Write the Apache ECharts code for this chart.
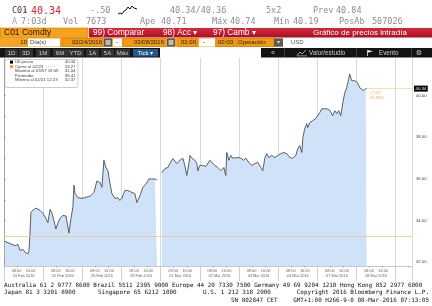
<!DOCTYPE html>
<html><head><meta charset="utf-8">
<script src="https://cdn.jsdelivr.net/npm/echarts@6/dist/echarts.min.js"></script>
<style>html,body{margin:0;padding:0;background:#fff}#c{width:432px;height:306px}</style>
</head><body><div id="c"></div><script>
// ---- data ----
const dayLabels = ['24 Feb 2016','25 Feb 2016','26 Feb 2016','29 Feb 2016','01 Mar 2016','02 Mar 2016','03 Mar 2016','04 Mar 2016','07 Mar 2016','08 Mar 2016'];
const sessionLabels = ['08:00', '16:00'];
// hours since 24 Feb 2016 00:00
const tickHours = [0.6,3.7,6.7,8.6,9.8,11.6,12.9,14.7,15.3,15.9,16.5,17.8,19.6,20.8,22.0,23.9,25.7,26.9,28.2,29.4,30.6,31.8,33.1,34.3,36.1,38.0,39.2,39.8,41.0,42.2,42.9,43.5,45.3,47.8,49.6,51.4,53.3,55.1,56.9,58.8,60.0,61.2,62.5,63.7,64.9,66.1,68.0,69.8,71.0,72.2,74.1,75.9,78.4,80.2,81.4,83.3,85.1,86.9,88.8,90.6,92.5,93.7,95.0,96.7,98.6,100.4,101.6,103.5,104.7,105.9,107.8,109.6,110.8,112.0,113.3,113.9,115.1,116.9,118.2,118.8,120.0,121.8,123.7,126.1,127.4,129.2,131.0,132.9,134.7,135.9,136.5,137.8,139.0,140.2,141.4,143.3,145.1,146.9,148.2,150.0,151.8,153.7,155.5,157.4,158.6,159.8,161.0,162.2,164.1,165.9,167.8,169.6,171.4,173.3,175.1,176.9,178.8,180.0,181.2,182.5,183.1,184.3,185.5,186.1,187.4,189.2,191.0,192.2,193.5,194.7,195.9,197.8,199.6,200.8,201.4,202.7,203.9,205.1,206.3,206.9,207.6,208.8,210.0,211.2,211.8,213.1,213.7,214.9,216.1,216.7,218.0,219.2,220.4,221.6,222.2];
const tickPrice = [33.00,32.90,32.80,32.85,32.57,32.62,32.48,32.40,32.55,33.34,34.40,34.50,34.60,34.64,34.50,34.35,34.10,33.90,34.54,34.35,34.00,33.60,33.90,34.10,34.25,34.22,34.15,33.40,34.10,34.64,35.70,35.30,35.10,35.07,35.10,35.15,35.20,35.35,35.90,35.83,35.60,36.90,36.55,36.40,35.80,35.30,35.07,35.10,34.97,35.07,35.45,35.45,35.35,35.30,34.87,35.20,35.60,35.75,36.00,36.00,36.00,35.95,null,36.30,36.50,36.55,36.74,36.98,36.90,36.74,36.90,37.00,36.65,36.17,36.74,37.13,37.00,36.90,36.74,36.40,36.65,36.65,36.60,36.90,36.80,36.65,36.55,36.40,36.55,36.17,37.27,36.90,37.13,37.00,37.03,37.03,37.00,36.90,37.00,36.80,36.65,36.74,36.80,36.55,36.40,37.00,37.22,37.03,37.13,37.03,37.13,37.22,37.27,37.22,37.03,37.00,37.13,37.46,37.60,37.27,37.99,38.42,38.66,38.47,38.70,38.80,38.90,39.04,39.19,39.37,39.43,39.37,39.30,39.28,39.04,39.28,39.14,39.28,39.04,39.28,39.66,40.14,40.38,40.81,41.04,40.72,40.81,40.72,40.72,40.62,40.38,40.29,40.24,40.34,40.34];
const closePrev = 33.27;
const yLabelValues = [32, 34, 36, 38, 40];
const yTickValues = [32, 33, 34, 35, 36, 37, 38, 39, 40, 41];
const legendNames = ['Últ precio', 'Cierre al 02/23', 'Máximo al 03/07 19:09', 'Promedio', 'Mínimo al 02/24 12:23'];
const legendValues = ['40.34', '33.27', '41.04', '36.41', '32.37'];
const footer1 = 'Australia 61 2 9777 8600 Brazil 5511 2395 9000 Europe 44 20 7330 7500 Germany 49 69 9204 1210 Hong Kong 852 2977 6000';
const footer2 = ['Japan 81 3 3201 8900', 'Singapore 65 6212 1000', 'U.S. 1 212 318 2000', 'Copyright 2016 Bloomberg Finance L.P.'];
const footer3 = ['SN 802847 CET', 'GMT+1:00 H266-9-0 08-Mar-2016 07:13:05'];

// ---- build ----
const seriesData = tickHours.map((h, i) => [h, tickPrice[i] === null ? '-' : tickPrice[i]]);
const lastIdx = tickPrice.length - 1;
const lastH = tickHours[lastIdx], last = tickPrice[lastIdx];
const chg = last - closePrev, pct = chg / closePrev * 100;
const xMax = 250;

const MONO = 'DejaVu Sans Mono', SANS = 'Liberation Sans';
function T(x, y, text, o) {
  o = o || {};
  return {type: 'text', x: x, y: y, z: 100, silent: true,
    style: {text: text, fill: o.fill || '#8e8e8e', font: (o.weight || 'normal') + ' ' + (o.size || 8.5) + 'px "' + (o.family || MONO) + '"',
      textAlign: o.align || 'left', textVerticalAlign: 'middle'}};
}
function R(x, y, w, h, fill, o) {
  o = o || {};
  return {type: 'rect', z: 99, silent: true, shape: {x: x, y: y, width: w, height: h, r: o.r || 0},
    style: {fill: fill, stroke: o.stroke || null, lineWidth: o.lw || 0}};
}
const g = [];
// row 1
g.push(T(12, 11, 'C01', {fill: '#3a3a3a'}));
g.push(T(23, 11, '↓', {fill: '#e02030', size: 8}));
g.push(T(31, 11, '40.34', {fill: '#e02030', size: 10}));
g.push(T(90, 11, '-.50'));
g.push({type: 'polyline', z: 100, silent: true, shape: {points: [[118,14],[120,13],[122,14],[124,11],[126,10],[128,7],[130,9],[132,6],[134,8],[137,9]]}, style: {stroke: '#111', lineWidth: 1, fill: null}});
g.push(T(170, 11, '40.34/40.36'));
g.push(T(266, 11, '5x2'));
g.push(T(313, 11, 'Prev'));
g.push(T(336, 11, '40.84'));
// row 2
g.push(T(12, 22, 'A', {fill: '#a8a8a8'}));
g.push(T(21, 22, '7:03d'));
g.push(T(63, 22, 'Vol'));
g.push(T(86, 22, '7673'));
g.push(T(140, 22, 'Ape'));
g.push(T(161, 22, '40.71'));
g.push(T(212, 22, 'Máx'));
g.push(T(230, 22, '40.74'));
g.push(T(274, 22, 'Mín'));
g.push(T(293, 22, '40.19'));
g.push(T(339, 22, 'PosAb'));
g.push(T(372, 22, '507026'));
// row 3
g.push(R(0, 28, 88, 9.5, '#f5a21f', {stroke: '#c97a00', lw: 0.6}));
g.push(T(4, 32.8, 'C01 Comdty', {family: SANS, size: 8.5, fill: '#2a1800'}));
g.push({type: 'rect', z: 99, silent: true, shape: {x: 89, y: 28, width: 343, height: 9.5},
  style: {fill: new echarts.graphic.LinearGradient(0, 0, 0, 1, [{offset: 0, color: '#d72a3c'}, {offset: 1, color: '#a80f22'}])}});
g.push(T(93, 32.8, '99) Comparar', {family: SANS, size: 8.3, fill: '#fff'}));
g.push(T(163, 32.8, '98) Acc ▾', {family: SANS, size: 8.3, fill: '#fff'}));
g.push(T(213, 32.8, '97) Camb ▾', {family: SANS, size: 8.3, fill: '#fff'}));
g.push(T(313, 32.8, 'Gráfico de precios intradía', {family: SANS, size: 8.0, fill: '#fff'}));
// row 4
g.push(R(0, 38, 283, 9, '#f7a325'));
g.push(T(27, 42.5, '10', {family: SANS, size: 6, fill: '#222', align: 'right'}));
g.push(R(28, 38.5, 32, 8, '#fff'));
g.push(T(30, 42.5, 'Día(s)', {family: SANS, size: 6, fill: '#444'}));
g.push(R(62, 38.5, 41, 8, '#f39a10', {stroke: '#c27400', lw: 0.5}));
g.push(T(102, 42.5, '02/24/2016', {family: SANS, size: 6, fill: '#222', align: 'right'}));
g.push(R(104, 38.5, 8, 8, '#5a5a5a'));
g.push(R(105.5, 40, 5, 5, '#bbb'));
g.push(R(113, 38.5, 9, 8, '#fff'));
g.push(T(116, 42.5, '-', {family: SANS, size: 6, fill: '#222'}));
g.push(R(123, 38.5, 42, 8, '#f39a10', {stroke: '#c27400', lw: 0.5}));
g.push(T(164, 42.5, '03/08/2016', {family: SANS, size: 6, fill: '#222', align: 'right'}));
g.push(R(167, 38.5, 8, 8, '#5a5a5a'));
g.push(R(168.5, 40, 5, 5, '#bbb'));
g.push(R(178, 38.5, 19, 8, '#f39a10', {stroke: '#c27400', lw: 0.5}));
g.push(T(196, 42.5, '02:00', {family: SANS, size: 6, fill: '#222', align: 'right'}));
g.push(R(199, 38.5, 16, 8, '#fff'));
g.push(T(203, 42.5, '-', {family: SANS, size: 6, fill: '#222'}));
g.push(R(216, 38.5, 18, 8, '#f39a10', {stroke: '#c27400', lw: 0.5}));
g.push(T(233, 42.5, '00:00', {family: SANS, size: 6, fill: '#222', align: 'right'}));
g.push(R(236, 38.5, 38, 8, '#f39a10', {stroke: '#c27400', lw: 0.5}));
g.push(T(238, 42.5, 'Operación', {family: SANS, size: 6, fill: '#222'}));
g.push(R(274, 38.5, 9, 8, '#5a5a5a'));
g.push(T(278.5, 42.5, '▾', {family: SANS, size: 6, fill: '#ddd', align: 'center'}));
g.push(T(291, 42.5, 'USD', {family: SANS, size: 6, fill: '#555'}));
// row 5
g.push(R(0, 48, 160, 9.5, '#141414'));
[['1D',5,13],['3D',19,14],['1M',36,14],['6M',53,14],['YTD',67,17],['1A',86,13],['5A',101,13],['Máx',115,15]].forEach(b => {
  g.push(R(b[1], 49, b[2], 7.5, '#333'));
  g.push(T(b[1] + b[2] / 2, 52.9, b[0], {family: SANS, size: 6, fill: '#d0d0d0', align: 'center'}));
});
g.push(R(133, 49, 25, 7.5, '#215a8e'));
g.push(T(145.5, 52.9, 'Tick ▾', {family: SANS, size: 6, fill: '#fff', align: 'center'}));
g.push(R(261, 48, 171, 9.5, '#141414'));
g.push(T(271, 52.9, '«', {family: SANS, size: 7, fill: '#ccc'}));
[284, 356, 411].forEach(x => g.push(R(x, 48.5, 0.8, 8.5, '#444')));
g.push({type: 'polyline', z: 100, silent: true, shape: {points: [[297,55.5],[300,52],[302,54],[306,50]]}, style: {stroke: '#ccc', lineWidth: 0.8, fill: null}});
g.push(R(297, 55.6, 10, 0.6, '#ccc'));
g.push(T(309, 52.9, 'Valor/estudio', {family: SANS, size: 6.3, fill: '#ccc'}));
g.push(R(367, 50, 0.8, 6, '#eee'));
g.push({type: 'polygon', z: 100, silent: true, shape: {points: [[367.8,50],[373,51.3],[367.8,52.8]]}, style: {fill: '#eee'}});
g.push(T(379, 52.9, 'Evento', {family: SANS, size: 6.3, fill: '#ccc'}));
g.push(T(419, 52.9, '⚙', {family: 'DejaVu Sans', size: 7, fill: '#ccc', align: 'center'}));
// legend box
g.push(R(5, 59.5, 73, 28, '#fff', {stroke: '#a8a8a8', lw: 0.6, r: 2}));
g.push(R(10, 60.6, 3, 3, '#000'));
g.push(R(10, 65.1, 3, 3, '#f0a020'));
const rowsY = [62.1, 66.6, 71.1, 75.6, 80.1];
legendNames.forEach((n, i) => {
  g.push(T(15, rowsY[i], n, {family: SANS, size: 4.3, fill: '#444'}));
  g.push(T(75.5, rowsY[i], legendValues[i], {family: SANS, size: 4.3, fill: '#444', align: 'right'}));
});
g.push({type: 'line', z: 100, silent: true, shape: {x1: 46, y1: 66.6, x2: 55, y2: 66.6}, style: {stroke: '#d8b070', lineWidth: 0.6, lineDash: [1, 1]}});
// footer
const FS = 5.95;
g.push(T(4, 285, footer1, {size: FS, fill: '#111'}));
g.push(T(4, 292.5, footer2[0], {size: FS, fill: '#111'}));
g.push(T(98, 292.5, footer2[1], {size: FS, fill: '#111'}));
g.push(T(203, 292.5, footer2[2], {size: FS, fill: '#111'}));
g.push(T(429, 292.5, footer2[3], {size: FS, fill: '#111', align: 'right'}));
g.push(T(231, 300, footer3[0], {size: FS, fill: '#111'}));
g.push(T(429, 300, footer3[1], {size: FS, fill: '#111', align: 'right'}));

const chart = echarts.init(document.getElementById('c'));
chart.setOption({
  animation: false,
  graphic: {elements: g},
  grid: {left: 4, right: 20, top: 58, bottom: 40},
  xAxis: {
    type: 'value', min: 0, max: xMax, interval: 24,
    axisLine: {show: true, lineStyle: {color: '#bdbdbd', width: 0.8}},
    axisTick: {show: true, length: 15, lineStyle: {color: '#c4c4c4', width: 0.8}},
    minorTick: {show: true, splitNumber: 3, length: 1.5, lineStyle: {color: '#888', width: 0.6}},
    splitLine: {show: true, lineStyle: {color: '#d2d2d2', width: 0.8}},
    axisLabel: {
      customValues: dayLabels.map((d, i) => i * 24 + 12),
      formatter: v => sessionLabels.join('    ') + '\n' + dayLabels[Math.round((v - 12) / 24)],
      fontSize: 3.9, lineHeight: 5, color: '#666', margin: 2.5, fontFamily: SANS
    }
  },
  yAxis: {
    type: 'value', position: 'right', min: 31.82, max: 41.81,
    axisLine: {show: true, lineStyle: {color: '#9a9a9a', width: 0.8}},
    axisTick: {show: true, customValues: yTickValues, length: 1.5, lineStyle: {color: '#666', width: 0.6}},
    axisLabel: {customValues: yLabelValues, formatter: v => v.toFixed(2), fontSize: 4.2, color: '#444', margin: 4, fontFamily: SANS},
    splitLine: {show: false}
  },
  series: [{
    type: 'line', data: seriesData, showSymbol: false, connectNulls: false,
    lineStyle: {color: '#383838', width: 0.8},
    areaStyle: {color: '#cfe2f7', opacity: 1},
    markLine: {
      silent: true, symbol: 'none', animation: false,
      data: [
        [{coord: [0, closePrev], lineStyle: {color: '#e6c98f', width: 0.8, type: 'solid'}, label: {show: false}}, {coord: [xMax, closePrev]}],
        [{coord: [lastH, last], lineStyle: {color: '#f2d7a0', width: 0.8, type: 'solid'},
          label: {show: true, position: 'end', distance: 2, formatter: last.toFixed(2), backgroundColor: '#000', color: '#fff', fontSize: 4.3, padding: [1, 1.5], fontFamily: SANS}},
         {coord: [xMax, last]}]
      ]
    },
    markPoint: {
      symbol: 'circle', symbolSize: 0, animation: false,
      data: [{coord: [lastH, last], label: {show: true, position: 'inside', align: 'left', verticalAlign: 'top', offset: [3, 1.5],
        formatter: '+' + chg.toFixed(2) + '\n' + pct.toFixed(2) + '%', color: '#e2a552', fontSize: 4.2, lineHeight: 5, fontFamily: SANS}}]
    }
  }]
});
</script></body></html>
